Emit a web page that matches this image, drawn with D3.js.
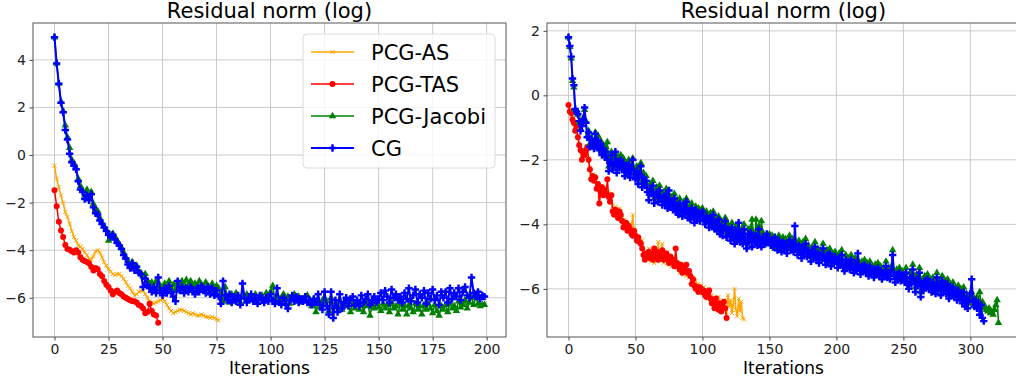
<!DOCTYPE html>
<html>
<head>
<meta charset="utf-8">
<script src="https://d3js.org/d3.v7.min.js"></script>
<style>
    body { margin: 0; background: #fff; }
    svg { font-family: 'DejaVu Sans', sans-serif; }
</style>
</head>
<body>
<script>

    // data: residual norm (log) per iteration
    var leftAS = [-0.45,-1.0,-1.35,-1.7,-2.0,-2.4,-2.6,-2.9,-3.2,-3.45,
        -3.6,-3.8,-3.85,-3.95,-4.1,-4.2,-4.35,-4.4,-4.25,-4.05,
        -4.0,-4.1,-4.3,-4.5,-4.65,-4.8,-4.9,-5.0,-5.05,-5.0,
        -5.0,-5.1,-5.2,-5.35,-5.5,-5.6,-5.75,-5.9,-5.85,-5.75,
        -5.7,-5.7,-5.85,-6.0,-6.15,-6.2,-6.25,-6.2,-6.15,-6.1,
        -6.05,-6.15,-6.3,-6.45,-6.55,-6.65,-6.6,-6.55,-6.5,-6.5,
        -6.55,-6.6,-6.65,-6.7,-6.65,-6.7,-6.75,-6.75,-6.7,-6.75,
        -6.8,-6.8,-6.85,-6.8,-6.85,-6.9,-6.95];

    var leftTAS = [-1.48,-2.15,-2.8,-3.17,-3.45,-3.78,-3.95,-3.98,-4.05,-4.1,
        -4.0,-4.1,-4.3,-4.4,-4.45,-4.5,-4.55,-4.7,-4.85,-4.75,
        -4.8,-5.0,-5.1,-5.3,-5.45,-5.55,-5.7,-5.85,-5.75,-5.7,
        -5.8,-5.85,-5.95,-6.0,-6.05,-6.1,-6.15,-6.15,-6.2,-6.3,
        -6.35,-6.45,-6.65,-6.6,-6.25,-6.55,-6.7,-6.75,-7.05];

    var leftJacobi = [4.95,3.85,3.0,2.25,1.85,1.25,0.75,0.3,-0.2,-0.35,
        -0.55,-1.0,-1.3,-1.5,-1.7,-1.45,-1.75,-1.55,-2.05,-2.3,
        -2.35,-2.65,-2.85,-3.0,-3.15,-3.6,-3.35,-3.3,-3.45,-3.6,
        -3.75,-3.9,-4.1,-4.3,-4.45,-4.6,-4.5,-4.7,-4.65,-4.9,
        -4.95,-5.1,-5.0,-5.3,-5.4,-5.35,-5.55,-5.3,-5.6,-5.5,
        -5.7,-5.4,-5.55,-5.3,-5.6,-5.45,-5.7,-5.35,-5.55,-5.3,
        -5.5,-5.25,-5.45,-5.3,-5.55,-5.4,-5.5,-5.3,-5.45,-5.6,
        -5.35,-5.5,-5.65,-5.4,-5.7,-5.5,-5.6,-5.8,-6.15,-5.55,
        -5.95,-6.2,-5.85,-6.05,-5.8,-6.1,-6.2,-5.9,-6.0,-5.85,
        -6.1,-5.95,-6.05,-5.85,-6.2,-6.0,-5.9,-6.1,-5.8,-5.95,
        -5.75,-5.5,-6.05,-5.9,-6.15,-6.0,-5.85,-6.1,-5.95,-6.25,
        -6.0,-5.85,-6.1,-5.95,-6.2,-6.05,-6.1,-5.9,-6.15,-6.35,
        -6.05,-6.6,-6.2,-6.4,-6.1,-6.3,-6.15,-6.55,-6.0,-6.4,
        -6.2,-6.35,-6.1,-6.5,-6.25,-6.35,-6.2,-6.6,-6.3,-6.45,
        -6.2,-6.5,-6.3,-6.6,-6.35,-6.2,-6.75,-6.3,-6.45,-6.2,
        -6.4,-6.55,-6.25,-6.45,-6.3,-6.6,-6.2,-6.45,-6.35,-6.7,
        -6.25,-6.5,-6.35,-6.7,-6.3,-6.45,-6.6,-6.25,-6.5,-6.35,
        -6.7,-6.3,-6.5,-6.25,-6.45,-6.65,-6.3,-6.55,-6.75,-6.35,
        -6.5,-6.3,-6.6,-6.2,-6.45,-6.35,-6.55,-6.15,-6.4,-6.3,
        -6.1,-6.45,-6.2,-6.0,-6.3,-5.95,-6.25,-6.35,-6.3,-6.3];

    var leftCG = [4.95,3.85,3.0,2.2,1.8,1.05,0.65,0.05,-0.3,-0.45,
        -0.6,-1.1,-1.45,-1.55,-1.85,-1.7,-1.9,-1.65,-2.2,-2.45,
        -2.5,-2.75,-2.9,-3.05,-3.2,-3.35,-3.45,-3.35,-3.55,-3.7,
        -3.8,-3.95,-4.2,-4.35,-4.6,-4.75,-4.55,-4.85,-4.7,-4.95,
        -5.0,-5.55,-5.2,-5.45,-5.6,-5.75,-5.55,-5.8,-5.15,-5.7,
        -5.9,-5.6,-5.8,-5.5,-5.75,-5.95,-6.15,-5.3,-5.7,-5.55,
        -5.8,-5.6,-5.75,-5.55,-5.7,-5.85,-5.6,-5.75,-5.5,-5.65,
        -5.8,-5.55,-5.85,-5.6,-5.9,-5.7,-5.95,-6.25,-5.3,-5.9,
        -6.1,-5.85,-6.2,-5.95,-6.15,-5.9,-6.3,-5.4,-6.0,-6.2,
        -6.05,-5.85,-6.15,-6.0,-6.25,-5.9,-6.1,-6.2,-6.0,-6.15,
        -5.85,-6.1,-6.25,-5.6,-6.15,-6.3,-6.0,-6.25,-6.45,-6.1,
        -5.9,-6.15,-5.95,-6.2,-6.05,-6.15,-5.95,-6.2,-6.1,-6.3,
        -6.05,-6.2,-5.85,-6.3,-6.5,-5.75,-6.35,-6.7,-5.75,-6.85,
        -6.1,-6.6,-5.85,-6.45,-6.2,-6.0,-6.35,-6.1,-5.95,-6.3,
        -6.1,-6.35,-5.9,-6.2,-6.05,-5.85,-6.3,-6.1,-5.95,-6.2,
        -6.05,-5.8,-6.1,-5.7,-5.95,-6.2,-5.65,-6.0,-5.85,-6.1,
        -5.95,-6.2,-5.8,-6.05,-5.6,-6.15,-5.9,-5.65,-6.2,-5.85,
        -6.0,-5.7,-6.25,-5.8,-6.05,-5.65,-6.1,-5.9,-6.3,-5.75,
        -6.0,-5.75,-6.2,-5.6,-6.05,-5.8,-5.95,-5.6,-6.1,-5.75,
        -5.55,-5.9,-6.0,-5.15,-5.8,-5.95,-5.75,-6.05,-5.9,-5.95];

    var rightAS = [-0.3,-0.45,-0.6,-0.7,-0.9,-1.05,-1.0,-1.25,-1.5,-1.65,
        -1.95,-1.8,-1.9,-1.75,-1.65,-1.95,-2.25,-2.5,-2.45,-2.6,
        -2.5,-2.75,-2.7,-3.2,-2.9,-2.8,-3.0,-2.9,-2.85,-3.1,
        -3.0,-3.25,-3.05,-3.45,-3.6,-3.45,-3.55,-3.7,-3.5,-3.6,
        -3.8,-4.0,-3.85,-4.1,-4.0,-4.2,-4.0,-4.1,-3.7,-4.25,
        -4.3,-4.4,-4.55,-4.45,-4.6,-4.5,-4.85,-5.05,-4.95,-5.1,
        -4.75,-5.0,-5.15,-4.95,-5.2,-4.9,-5.15,-4.55,-5.05,-4.95,
        -4.6,-5.2,-5.0,-5.15,-4.85,-5.25,-5.05,-5.3,-5.0,-5.2,
        -5.1,-5.35,-5.2,-5.5,-5.3,-5.45,-5.55,-5.35,-5.6,-5.45,
        -5.65,-5.55,-5.8,-5.65,-5.95,-5.75,-6.05,-5.85,-6.0,-5.9,
        -6.15,-5.95,-6.25,-6.1,-6.3,-6.0,-6.35,-6.2,-6.5,-6.3,
        -6.4,-6.6,-6.25,-6.55,-6.45,-6.7,-6.35,-6.6,-6.8,-6.2,
        -6.55,-6.35,-6.75,-6.5,-6.0,-6.65,-6.85,-6.3,-6.7,-6.4,-6.9,-6.95];

    var rightTAS = [-0.3,-0.5,-0.55,-0.75,-0.85,-1.1,-0.95,-1.3,-1.55,-1.7,
        -2.0,-1.75,-1.85,-1.7,-1.6,-2.0,-2.3,-2.6,-2.5,-2.65,
        -2.55,-2.9,-2.75,-3.35,-3.0,-2.85,-3.1,-2.95,-3.05,-2.6,
        -3.15,-3.3,-3.1,-3.6,-3.7,-3.55,-3.65,-3.8,-3.6,-3.7,
        -3.9,-4.1,-4.0,-3.95,-4.2,-4.05,-4.15,-4.3,-4.35,-4.2,
        -4.35,-4.5,-4.4,-4.55,-4.6,-4.75,-4.95,-5.1,-4.9,-5.0,
        -4.85,-5.05,-4.9,-5.1,-4.75,-5.0,-4.85,-5.1,-4.95,-5.05,
        -4.8,-5.1,-5.0,-4.9,-5.05,-5.2,-5.0,-5.15,-5.1,-5.3,
        -4.75,-5.2,-5.3,-5.4,-5.25,-5.5,-5.35,-5.45,-5.25,-5.5,
        -5.45,-5.6,-5.85,-5.7,-5.9,-6.0,-5.95,-6.1,-5.95,-6.0,
        -6.1,-6.05,-6.2,-6.25,-6.15,-6.05,-6.3,-6.45,-6.35,-6.6,
        -6.3,-6.5,-6.65,-6.45,-6.7,-6.55,-6.4,-6.6,-6.9];

    var rightJacobi = [1.8,1.5,1.15,0.45,0.25,-0.45,-0.55,-0.6,-0.85,-1.05,
        -0.9,-0.7,-0.45,-0.8,-1.25,-1.1,-1.5,-1.3,-1.45,-1.55,
        -1.15,-1.4,-1.25,-1.6,-1.4,-1.75,-1.55,-1.8,-1.6,-1.45,
        -2.2,-1.95,-1.75,-2.15,-2.0,-1.85,-2.2,-1.9,-2.1,-1.85,
        -2.15,-1.95,-2.35,-2.1,-2.3,-2.0,-2.4,-2.15,-1.95,-2.3,
        -2.45,-2.2,-2.6,-2.3,-2.1,-2.7,-2.4,-2.65,-2.5,-2.8,
        -3.05,-2.75,-2.95,-2.65,-3.2,-2.95,-2.85,-3.15,-2.8,-3.05,
        -3.25,-3.0,-3.2,-2.9,-3.35,-3.1,-3.3,-3.15,-3.4,-3.05,
        -3.45,-3.25,-3.55,-3.2,-3.4,-3.6,-3.3,-3.5,-3.2,-3.65,
        -3.45,-3.7,-3.35,-3.55,-3.8,-3.45,-3.65,-3.5,-3.75,-3.55,
        -3.5,-3.7,-3.9,-3.6,-3.75,-3.95,-3.65,-3.9,-3.6,-4.0,
        -3.8,-4.05,-3.75,-4.15,-3.9,-4.2,-3.95,-3.8,-4.25,-4.0,
        -4.1,-4.35,-3.95,-4.2,-4.45,-4.05,-4.3,-4.5,-4.4,-4.15,
        -4.45,-4.0,-4.35,-4.6,-4.15,-4.4,-4.1,-3.85,-4.25,-4.4,
        -3.85,-4.5,-4.05,-4.35,-3.9,-4.25,-4.4,-4.45,-4.6,-4.4,
        -4.3,-4.5,-4.35,-4.55,-4.75,-4.45,-4.65,-4.35,-4.5,-4.7,
        -4.4,-4.6,-4.45,-4.75,-4.55,-4.35,-4.65,-4.45,-4.7,-4.5,
        -4.6,-4.8,-4.5,-4.7,-4.9,-4.55,-4.75,-4.45,-4.85,-4.65,
        -4.8,-5.0,-4.7,-4.85,-4.55,-4.95,-4.75,-5.05,-4.8,-4.95,
        -4.6,-4.9,-5.1,-4.8,-5.0,-4.75,-5.15,-4.9,-5.05,-4.85,
        -5.0,-5.2,-4.9,-5.1,-4.8,-5.15,-5.3,-4.95,-5.15,-5.05,
        -5.25,-4.95,-5.2,-5.35,-5.05,-5.3,-5.1,-5.2,-5.4,-5.15,
        -5.3,-5.1,-5.35,-5.2,-5.45,-5.15,-5.35,-5.3,-5.5,-5.25,
        -5.4,-5.2,-5.45,-5.3,-5.55,-5.35,-5.45,-5.15,-5.5,-5.35,
        -5.55,-5.3,-4.8,-5.45,-5.65,-5.4,-5.55,-5.35,-5.6,-5.45,
        -5.5,-5.65,-5.35,-5.7,-5.85,-5.5,-5.7,-5.25,-5.6,-5.95,
        -5.55,-5.75,-5.35,-6.1,-5.7,-5.9,-5.6,-5.8,-5.55,-5.85,
        -5.7,-5.95,-5.65,-5.8,-6.0,-5.5,-5.85,-5.75,-6.05,-5.6,
        -5.9,-5.75,-6.0,-5.7,-6.15,-5.85,-6.05,-5.8,-6.1,-5.95,
        -6.2,-5.9,-6.15,-6.0,-6.3,-5.95,-6.4,-6.15,-6.45,-6.2,
        -6.35,-6.1,-6.45,-6.3,-6.55,-6.25,-6.5,-6.1,-6.55,-6.4,
        -6.6,-6.55,-6.65,-6.7,-6.6,-6.75,-6.7,-6.8,-6.65,-6.5,-6.35,-7.05];

    var rightCG = [1.8,1.53,1.2,0.52,0.31,-0.42,-0.5,-0.58,-0.8,-1.1,
        -0.95,-0.75,-0.38,-0.85,-1.3,-1.15,-1.6,-1.35,-1.5,-1.65,
        -1.2,-1.55,-1.4,-1.7,-1.5,-1.85,-1.65,-1.9,-1.75,-2.0,
        -2.35,-2.1,-1.85,-2.3,-2.15,-1.75,-2.4,-2.05,-2.25,-2.0,
        -2.3,-2.1,-2.5,-2.2,-2.4,-2.15,-2.55,-2.3,-2.0,-2.45,
        -2.6,-2.35,-2.75,-2.45,-2.2,-2.85,-2.55,-2.8,-2.65,-3.0,
        -3.25,-2.9,-3.05,-2.8,-3.35,-3.1,-3.0,-3.3,-2.95,-3.2,
        -3.4,-3.15,-3.35,-3.05,-3.5,-2.95,-3.45,-3.3,-3.55,-3.2,
        -3.6,-3.4,-3.7,-3.35,-3.55,-3.75,-3.45,-3.65,-3.3,-3.8,
        -3.6,-3.85,-3.5,-3.7,-3.95,-3.55,-3.8,-3.65,-3.9,-3.7,
        -3.6,-3.85,-4.0,-3.75,-3.9,-4.1,-3.8,-4.05,-3.7,-4.15,
        -3.95,-4.2,-3.85,-4.3,-4.05,-4.35,-4.1,-3.9,-4.4,-4.15,
        -4.25,-4.5,-4.1,-4.35,-4.6,-4.2,-4.45,-3.95,-4.55,-4.3,
        -4.6,-4.15,-4.5,-4.75,-4.3,-4.55,-4.25,-4.7,-4.4,-4.55,
        -4.35,-4.65,-4.15,-4.5,-4.7,-4.4,-4.55,-4.6,-4.3,-4.55,
        -4.45,-4.65,-4.5,-4.7,-4.4,-4.6,-4.8,-4.5,-4.65,-4.85,
        -4.55,-4.75,-4.6,-4.9,-4.7,-4.5,-4.8,-4.6,-4.85,-4.05,
        -4.75,-4.95,-4.65,-4.85,-5.05,-4.7,-4.9,-4.6,-5.0,-4.8,
        -4.95,-5.15,-4.85,-5.0,-4.7,-5.1,-4.9,-5.2,-4.95,-5.1,
        -4.75,-5.05,-5.25,-4.95,-5.15,-4.9,-5.3,-5.05,-5.2,-5.0,
        -5.15,-5.35,-5.05,-5.25,-4.95,-5.3,-5.45,-5.1,-5.3,-5.2,
        -5.4,-5.1,-5.35,-5.5,-5.2,-5.45,-4.9,-5.35,-5.55,-5.3,
        -5.45,-5.25,-5.5,-5.35,-5.6,-5.3,-5.5,-5.45,-5.65,-5.4,
        -5.55,-5.35,-5.6,-5.45,-5.7,-5.5,-5.6,-5.3,-5.65,-5.5,
        -5.7,-5.45,-4.95,-5.6,-5.8,-5.55,-5.7,-5.5,-5.75,-5.6,
        -5.65,-5.8,-5.5,-5.85,-6.0,-5.65,-5.85,-5.4,-5.75,-6.1,
        -5.7,-5.9,-5.5,-6.25,-5.85,-6.05,-5.75,-5.95,-5.7,-6.0,
        -5.85,-6.1,-5.8,-5.95,-6.15,-5.65,-6.0,-5.9,-6.2,-5.75,
        -6.05,-5.9,-6.15,-5.85,-6.3,-6.0,-6.2,-5.95,-6.25,-6.1,
        -6.35,-6.05,-6.3,-6.15,-6.45,-6.1,-6.55,-6.3,-6.6,-6.35,
        -6.15,-5.7,-6.4,-6.55,-6.35,-6.6,-6.45,-6.8,-6.5,-6.9,-7.0];

    var seriesNames = ['PCG-AS', 'PCG-TAS', 'PCG-Jacobi', 'CG'];
    var seriesColors = ['orange', 'red', 'green', 'blue'];
    var leftXTicks = [0, 25, 50, 75, 100, 125, 150, 175, 200];
    var rightXTicks = [0, 50, 100, 150, 200, 250, 300];
    var leftYTicks = [-6, -4, -2, 0, 2, 4];
    var rightYTicks = [-6, -4, -2, 0, 2];
    var titleText = 'Residual norm (log)';
    var xLabel = 'Iterations';

    // size
    var plotW = 473, plotH = 314, plotTop = 23;

    var svg = d3.select('body')
        .append('svg')
        .attr('width', 1016)
        .attr('height', 381);

    // line width and marker per series
    var lineWidths = [1.5, 1.5, 1.6, 2];

    function drawMarker(g, k, px, py) {
        var c = seriesColors[k];
        if (k == 0) {
            g.append('path')
                .attr('d', 'M' + (px - 2) + ',' + (py - 2) + 'L' + (px + 2) + ',' + (py + 2) +
                    'M' + (px - 2) + ',' + (py + 2) + 'L' + (px + 2) + ',' + (py - 2))
                .attr('stroke', c)
                .attr('stroke-width', 1)
                .attr('fill', 'none');
        } else if (k == 1) {
            g.append('circle')
                .attr('cx', px).attr('cy', py).attr('r', 3)
                .attr('fill', c);
        } else if (k == 2) {
            g.append('path')
                .attr('d', d3.symbol().type(d3.symbolTriangle).size(24)())
                .attr('transform', 'translate(' + px + ',' + py + ')')
                .attr('fill', c);
        } else {
            g.append('path')
                .attr('d', d3.symbol().type(d3.symbolCross).size(30)())
                .attr('transform', 'translate(' + px + ',' + py + ')')
                .attr('fill', c);
        }
    }

    function drawPanel(left, series, xTicks, yTicks, id) {
        var g = svg.append('g')
            .attr('transform', 'translate(' + left + ',' + plotTop + ')');

        // scales with matplotlib style 5% margins
        var xMax = d3.max(series, s => s.length - 1);
        var xPad = xMax * 0.05;
        var yMin = d3.min(series, s => d3.min(s));
        var yMax = d3.max(series, s => d3.max(s));
        var yPad = (yMax - yMin) * 0.05;

        var xScale = d3.scaleLinear()
            .domain([-xPad, xMax + xPad])
            .range([0, plotW]);
        var yScale = d3.scaleLinear()
            .domain([yMin - yPad, yMax + yPad])
            .range([plotH, 0]);

        // grid
        g.append('g').selectAll('line')
            .data(xTicks).enter().append('line')
            .attr('x1', d => xScale(d)).attr('x2', d => xScale(d))
            .attr('y1', 0).attr('y2', plotH)
            .attr('stroke', '#cbcbcb').attr('stroke-width', 1);
        g.append('g').selectAll('line')
            .data(yTicks).enter().append('line')
            .attr('x1', 0).attr('x2', plotW)
            .attr('y1', d => yScale(d)).attr('y2', d => yScale(d))
            .attr('stroke', '#cbcbcb').attr('stroke-width', 1);

        g.append('clipPath').attr('id', id)
            .append('rect').attr('width', plotW).attr('height', plotH);

        var plot = g.append('g').attr('clip-path', 'url(#' + id + ')');
        var line = d3.line()
            .x((d, i) => xScale(i))
            .y(d => yScale(d));

        series.forEach(function (s, k) {
            plot.append('path')
                .datum(s)
                .attr('d', line)
                .attr('fill', 'none')
                .attr('stroke', seriesColors[k])
                .attr('stroke-width', lineWidths[k])
                .attr('stroke-linejoin', 'round');
            var mg = plot.append('g');
            s.forEach(function (v, i) {
                drawMarker(mg, k, xScale(i), yScale(v));
            });
        });

        // axes
        var xAxis = d3.axisBottom(xScale).tickValues(xTicks)
            .tickSize(3.5).tickPadding(3.5).tickSizeOuter(0);
        var yAxis = d3.axisLeft(yScale).tickValues(yTicks)
            .tickFormat(d3.format('d'))
            .tickSize(3.5).tickPadding(3.5).tickSizeOuter(0);

        var gx = g.append('g')
            .attr('transform', 'translate(0,' + plotH + ')')
            .call(xAxis);
        var gy = g.append('g').call(yAxis);
        [gx, gy].forEach(function (a) {
            a.select('.domain').remove();
            a.selectAll('text')
                .style('font-size', '14px')
                .style('font-family', 'DejaVu Sans')
                .attr('fill', '#222');
            a.selectAll('line').attr('stroke', '#444');
        });

        // frame
        g.append('rect')
            .attr('width', plotW).attr('height', plotH)
            .attr('fill', 'none')
            .attr('stroke', '#555')
            .attr('stroke-width', 1);

        g.append('text')
            .attr('x', plotW / 2).attr('y', -5)
            .attr('text-anchor', 'middle')
            .style('font-size', '21px')
            .text(titleText);

        g.append('text')
            .attr('x', plotW / 2).attr('y', plotH + 37)
            .attr('text-anchor', 'middle')
            .style('font-size', '17px')
            .text(xLabel);

        return g;
    }

    var leftG = drawPanel(33, [leftAS, leftTAS, leftJacobi, leftCG], leftXTicks, leftYTicks, 'clipL');
    drawPanel(547, [rightAS, rightTAS, rightJacobi, rightCG], rightXTicks, rightYTicks, 'clipR');

    // legend
    var legend = leftG.append('g')
        .attr('transform', 'translate(270,11)');
    legend.append('rect')
        .attr('width', 192).attr('height', 134)
        .attr('rx', 4)
        .attr('fill', 'white').attr('fill-opacity', 0.8)
        .attr('stroke', '#dcdcdc');

    seriesNames.forEach(function (name, k) {
        var ly = 18 + k * 32;
        legend.append('line')
            .attr('x1', 8).attr('x2', 51)
            .attr('y1', ly).attr('y2', ly)
            .attr('stroke', seriesColors[k])
            .attr('stroke-width', lineWidths[k]);
        drawMarker(legend, k, 29.5, ly);
        legend.append('text')
            .attr('x', 68).attr('y', ly)
            .attr('dy', '0.36em')
            .style('font-size', '21px')
            .text(name);
    });

</script>
</body>
</html>
